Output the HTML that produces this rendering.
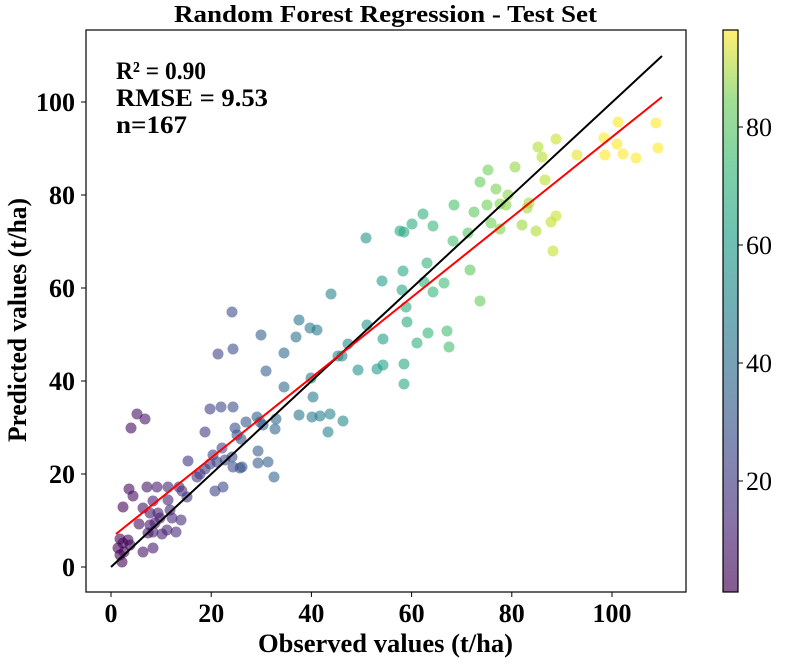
<!DOCTYPE html>
<html><head><meta charset="utf-8"><style>
body{margin:0;background:#fff}
svg text{font-family:"Liberation Serif",serif}
</style></head><body>
<svg id="s" width="796" height="666" xmlns="http://www.w3.org/2000/svg">
<defs>
<linearGradient id="vg" x1="0" y1="1" x2="0" y2="0">
<stop offset="0" stop-color="#440154"/><stop offset="0.125" stop-color="#482878"/><stop offset="0.25" stop-color="#3e4989"/><stop offset="0.375" stop-color="#31688e"/><stop offset="0.5" stop-color="#26828e"/><stop offset="0.625" stop-color="#1f9e89"/><stop offset="0.75" stop-color="#35b779"/><stop offset="0.875" stop-color="#6ece58"/><stop offset="1" stop-color="#fde725"/>
</linearGradient>
<clipPath id="cp"><rect x="86" y="30" width="600" height="562"/></clipPath>
</defs>
<rect width="796" height="666" fill="#fff"/>
<g id="pts" clip-path="url(#cp)"></g>
<line x1="111" y1="567" x2="662" y2="56" stroke="#000" stroke-width="2"/>
<line x1="116" y1="534" x2="662" y2="97" stroke="#f00" stroke-width="2"/>
<rect x="86" y="30" width="600" height="562" fill="none" stroke="#000" stroke-width="1.2"/>
<g id="ax" font-size="26" font-weight="bold"></g>
<text x="174" y="22" font-size="24" font-weight="bold" textLength="423" lengthAdjust="spacingAndGlyphs">Random Forest Regression - Test Set</text>
<text x="258" y="652" font-size="26" font-weight="bold" textLength="255" lengthAdjust="spacingAndGlyphs">Observed values (t/ha)</text>
<text transform="translate(26,442) rotate(-90)" font-size="26" font-weight="bold" textLength="244" lengthAdjust="spacingAndGlyphs">Predicted values (t/ha)</text>
<text x="116" y="79" font-size="25" font-weight="bold" textLength="90" lengthAdjust="spacingAndGlyphs">R² = 0.90</text>
<text x="116" y="106" font-size="25" font-weight="bold" textLength="152" lengthAdjust="spacingAndGlyphs">RMSE = 9.53</text>
<text x="116" y="133" font-size="25" font-weight="bold" textLength="71" lengthAdjust="spacingAndGlyphs">n=167</text>
<rect x="723" y="30" width="15" height="562" fill="url(#vg)" opacity="0.65"/>
<rect x="723" y="30" width="15" height="562" fill="none" stroke="#000" stroke-width="1.2"/>
<g id="cb" font-size="26"></g>
</svg>
<script>
var P=[[618,122],[656,123],[604,138],[556,139],[538,147],[617,144],[542,157],[577,155],[605,155],[623,154],[636,158],[658,148],[488,170],[515,167],[480,182],[496,189],[545,180],[508,195],[454,205],[474,212],[487,205],[500,204],[506,205],[529,203],[527,208],[491,223],[500,229],[522,225],[536,231],[551,222],[556,216],[468,233],[453,241],[553,251],[470,270],[444,283],[480,301],
[423,214],[412,224],[433,226],[400,231],[404,232],[366,238],[427,263],[403,271],[382,281],[402,290],[433,292],[424,282],[331,294],[406,307],[232,312],[299,320],[310,328],[317,330],[367,325],[407,322],[261,335],[296,337],[383,339],[428,333],[447,331],[417,343],[449,347],[218,354],[233,349],[284,353],[348,344],[338,356],[342,356],[266,371],[358,370],[377,369],[383,365],[404,364],[404,384],[284,387],[311,378],[313,397],
[137,414],[145,419],[131,428],[210,409],[221,407],[233,407],[205,432],[235,428],[246,422],[257,417],[260,422],[263,425],[276,419],[275,429],[299,415],[312,417],[320,416],[330,414],[343,421],[328,432],[237,435],[241,439],[222,448],[213,455],[258,451],[232,457],[188,461],[217,462],[210,464],[225,460],[258,463],[268,462],[233,467],[240,468],[242,467],[197,477],[200,474],[205,469],[274,477],[215,491],[223,487],[129,489],[133,496],[147,487],[157,487],[168,487],[179,487],[182,491],[187,497],[123,507],[143,508],[153,501],[168,500],[150,513],[158,513],[170,510],[160,518],[172,518],[181,520],[139,524],[150,525],[155,523],[148,533],[153,532],[167,530],[176,532],[162,534],[120,539],[128,540],[123,543],[130,545],[118,548],[124,552],[120,555],[122,562],[143,552],[153,548]];
var V=[[68,1,84],[72,40,120],[62,73,137],[49,104,142],[38,130,142],[31,158,137],[53,183,121],[110,206,88],[181,222,43],[253,231,37]];
function vir(t){t=Math.max(0,Math.min(1,t))*9;var i=Math.min(8,Math.floor(t)),f=t-i,a=V[i],b=V[i+1];return'rgb('+a.map(function(v,k){return Math.round(v+(b[k]-v)*f)}).join(',')+')';}
var ns='http://www.w3.org/2000/svg',g=document.getElementById('pts');
P.forEach(function(p){var c=document.createElementNS(ns,'circle');c.setAttribute('cx',p[0]);c.setAttribute('cy',p[1]);c.setAttribute('r',5.5);var v=(p[0]-111)/5.01;c.setAttribute('fill',vir((v-1.2)/95.2));c.setAttribute('fill-opacity',0.6);g.appendChild(c);});
var ax=document.getElementById('ax'),h='';
for(var k=0;k<=5;k++){var x=111+100.2*k;h+='<line x1="'+x+'" y1="592" x2="'+x+'" y2="597" stroke="#000"/><text x="'+x+'" y="622" text-anchor="middle">'+(k*20)+'</text>';}
for(var k=0;k<=5;k++){var y=567-93*k;h+='<line x1="81" y1="'+y+'" x2="86" y2="'+y+'" stroke="#000"/><text x="75" y="'+(y+9)+'" text-anchor="end">'+(k*20)+'</text>';}
ax.innerHTML=h;
var cb=document.getElementById('cb');h='';
for(var k=1;k<=4;k++){var y=481-118*(k-1);h+='<line x1="738" y1="'+y+'" x2="743" y2="'+y+'" stroke="#000"/><text x="746" y="'+(y+9)+'">'+(k*20)+'</text>';}
cb.innerHTML=h;
</script>
</body></html>
